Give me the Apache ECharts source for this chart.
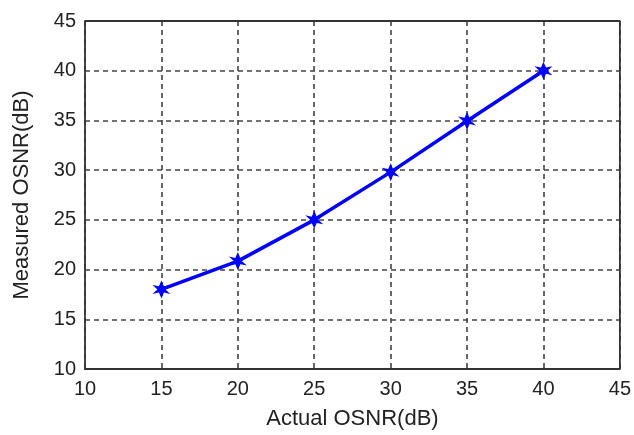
<!DOCTYPE html>
<html><head><meta charset="utf-8">
<script src="https://cdn.jsdelivr.net/npm/echarts@6/dist/echarts.min.js"></script>
<style>html,body{margin:0;padding:0;background:#fff}#c{width:634px;height:435px}</style>
</head><body><div id="c"></div>
<script>
var actualOSNR = [15, 20, 25, 30, 35, 40];
var measuredOSNR = [18.0, 20.85, 25.0, 29.8, 34.95, 40.0];
var xTitle = 'Actual OSNR(dB)';
var yTitle = 'Measured OSNR(dB)';
var data = actualOSNR.map(function(x, i){ return [x, measuredOSNR[i]]; });
var font = 'Liberation Sans, Arial, sans-serif';
var chart = echarts.init(document.getElementById('c'), null, {renderer:'canvas'});
chart.setOption({
  animation:false,
  backgroundColor:'#fff',
  grid:{left:85, right:13, top:21, bottom:65, containLabel:false},
  xAxis:{type:'value', min:10, max:45, interval:5,
    name:xTitle, nameLocation:'middle', nameGap:39,
    nameTextStyle:{fontFamily:font, fontSize:22, color:'#222'},
    axisLine:{onZero:false, lineStyle:{color:'#333', width:1.8}},
    axisTick:{show:false},
    axisLabel:{fontFamily:font, fontSize:20, color:'#222', margin:10},
    splitLine:{show:true, lineStyle:{color:'#444', type:[5,4], width:1.6}}},
  yAxis:{type:'value', min:10, max:45, interval:5,
    name:yTitle, nameLocation:'middle', nameGap:52,
    nameTextStyle:{fontFamily:font, fontSize:22, color:'#222'},
    axisLine:{onZero:false, lineStyle:{color:'#333', width:1.8}},
    axisTick:{show:false},
    axisLabel:{fontFamily:font, fontSize:20, color:'#222', margin:9},
    splitLine:{show:true, lineStyle:{color:'#444', type:[5,4], width:1.6}}},
  series:[
    {type:'line', data:data, itemStyle:{color:'#0000ff'},
     lineStyle:{color:'#0000ff', width:3.5},
     symbol:'path://M0,-10 L2.5,-3.5 L9,-5 L4,0 L9,5 L2.5,3.5 L0,10 L-2.5,3.5 L-9,5 L-4,0 L-9,-5 L-2.5,-3.5 Z',
     symbolSize:18, showSymbol:true},
    {type:'line', data:[[45,10],[45,45],[10,45]], symbol:'none', silent:true,
     lineStyle:{color:'#333', width:1.8}}
  ]
});
</script></body></html>
